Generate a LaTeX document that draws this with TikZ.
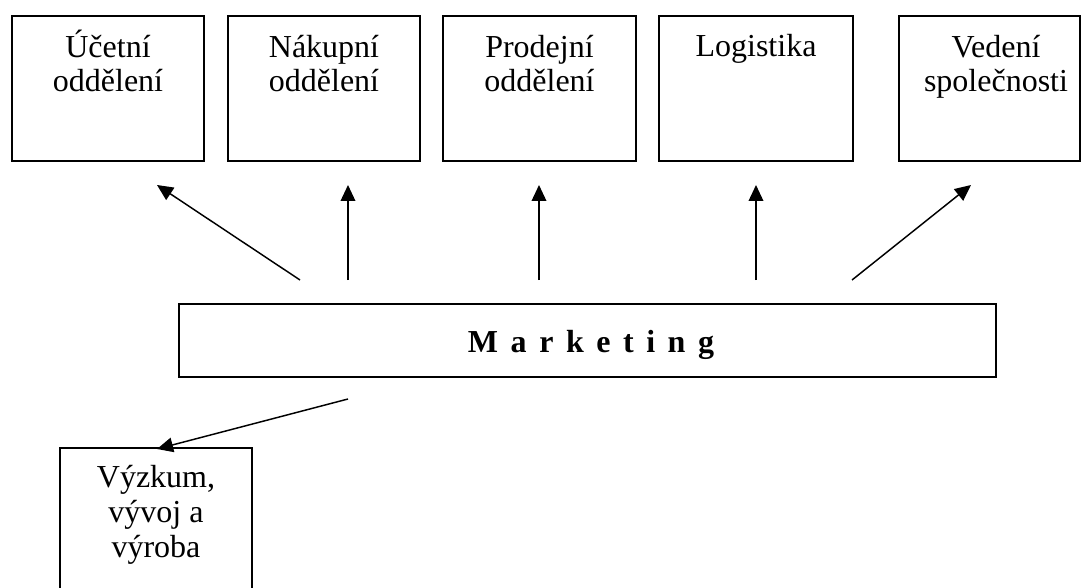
\documentclass[tikz,border=0pt]{standalone}
\usepackage{fontspec}
\setmainfont{Liberation Serif}
\usetikzlibrary{arrows.meta}
\tikzset{
  box/.style={draw, line width=1.2pt, rectangle, inner sep=0pt},
  lbl/.style={font=\fontsize{24}{26}\selectfont, align=center, anchor=base, inner sep=0pt},
  arr/.style={-{Triangle[length=12pt,width=11pt]}, line width=1.1pt}
}
\begin{document}
\begin{tikzpicture}[x=0.75pt,y=-0.75pt]
\clip (0,0) rectangle (1082,588);
\fill[white] (0,0) rectangle (1082,588);
% top boxes
\node[box, minimum width=144pt, minimum height=108.75pt] (b1) at (108,88.5) {};
\node[box, minimum width=144pt, minimum height=108.75pt] (b2) at (324,88.5) {};
\node[box, minimum width=144.75pt, minimum height=108.75pt] (b3) at (539.5,88.5) {};
\node[box, minimum width=145.5pt, minimum height=108.75pt] (b4) at (756,88.5) {};
\node[box, minimum width=135.75pt, minimum height=108.75pt] (b5) at (989.5,88.5) {};
% marketing
\node[box, minimum width=612.75pt, minimum height=54.75pt] (mk) at (587.5,340.5) {};
% bottom box
\node[box, minimum width=144pt, minimum height=114pt] (b6) at (156,524) {};
% labels (anchor base = baseline of the last line)
\node[lbl] (t1) at (108,92) {Účetní\\oddělení};
\node[lbl] (t2) at (324,92) {Nákupní\\oddělení};
\node[lbl] (t3) at (539.5,92) {Prodejní\\oddělení};
\node[lbl] (t4) at (756,57) {Logistika};
\node[lbl] (t5) at (996,92) {Vedení\\společnosti};
\node[lbl, font=\fontsize{24}{26}\selectfont\bfseries] (tm) at (591,352)
  {M\hspace{9.4pt}a\hspace{9.4pt}r\hspace{9.4pt}k\hspace{9.4pt}e\hspace{9.4pt}t\hspace{9.4pt}i\hspace{9.4pt}n\hspace{9.4pt}g};
\node[lbl] (t6) at (156,557) {Výzkum,\\vývoj a\\výroba};
% arrow end points
\coordinate (s1) at (300,280); \coordinate (e1) at (157,185);
\coordinate (s2) at (348,280); \coordinate (e2) at (348,185);
\coordinate (s3) at (539,280); \coordinate (e3) at (539,185);
\coordinate (s4) at (756,280); \coordinate (e4) at (756,185);
\coordinate (s5) at (852,280); \coordinate (e5) at (971,185);
\coordinate (s6) at (348,399); \coordinate (e6) at (157,449);
\draw[arr] (s1) -- (e1);
\draw[arr] (s2) -- (e2);
\draw[arr] (s3) -- (e3);
\draw[arr] (s4) -- (e4);
\draw[arr] (s5) -- (e5);
\draw[arr] (s6) -- (e6);
\end{tikzpicture}
\end{document}
